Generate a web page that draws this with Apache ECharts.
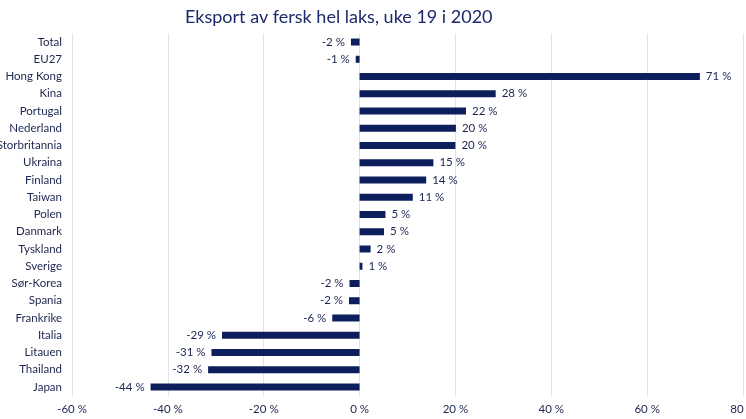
<!DOCTYPE html>
<html><head><meta charset="utf-8">
<script src="https://cdn.jsdelivr.net/npm/echarts@6/dist/echarts.min.js"></script>
<style>html,body{margin:0;padding:0;background:#fff}#c{width:746px;height:419px}</style>
</head><body><div id="c"></div>
<script>
var categories = ["Total","EU27","Hong Kong","Kina","Portugal","Nederland","Storbritannia","Ukraina","Finland","Taiwan","Polen","Danmark","Tyskland","Sverige","Sør-Korea","Spania","Frankrike","Italia","Litauen","Thailand","Japan"];
var values = [-1.8,-0.8,71.0,28.4,22.2,20.1,20.0,15.4,13.9,11.1,5.4,5.1,2.3,0.6,-2.1,-2.2,-5.7,-28.7,-30.9,-31.6,-43.6];
var titleText = "Eksport av fersk hel laks, uke 19 i 2020";
var textColor = "#1c2550";
var chart = echarts.init(document.getElementById('c'));
chart.setOption({
  animation:false,
  title:{text:titleText,left:180,top:3,textStyle:{fontFamily:'Lato',fontSize:18,fontWeight:'normal',color:'#1c2a6b'}},
  grid:{left:72,right:3,top:33.4,bottom:23.4,containLabel:false,outerBoundsMode:'none'},
  xAxis:{type:'value',min:-60,max:80,interval:20,
    axisLabel:{formatter:function(v){return v+' %';},color:textColor,fontFamily:'Lato',fontSize:11.5,margin:8},
    axisLine:{show:false},axisTick:{show:false},
    splitLine:{lineStyle:{color:'#d9e6f2',width:1}}},
  yAxis:{type:'category',data:categories,inverse:true,
    axisLabel:{color:textColor,fontFamily:'Lato',fontSize:11.5,margin:10},
    axisLine:{show:false},axisTick:{show:false}},
  series:[{type:'bar',barWidth:7,
    data:values.map(function(v){return {value:v,label:{position:v>=0?'right':'left'}};}),
    itemStyle:{color:'#0c1f5c'},
    label:{show:true,color:textColor,fontFamily:'Lato',fontSize:11.5,distance:6,
      formatter:function(p){return Math.round(p.value)+' %';}}}]
});
</script></body></html>
